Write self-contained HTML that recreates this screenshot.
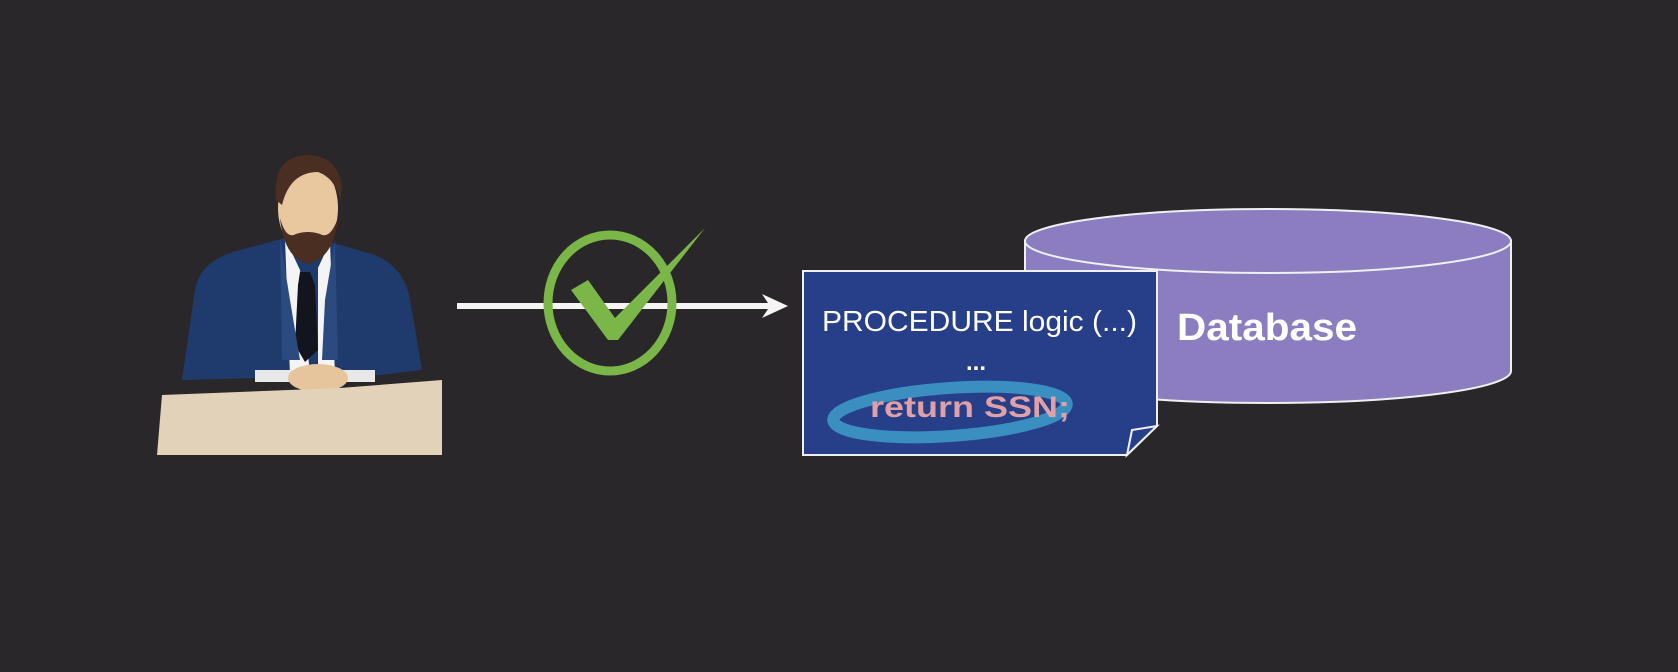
<!DOCTYPE html>
<html><head><meta charset="utf-8"><style>
html,body{margin:0;padding:0;background:#29272a;}
svg{display:block}
</style></head><body>
<svg width="1678" height="672" viewBox="0 0 1678 672" xmlns="http://www.w3.org/2000/svg">
<rect width="1678" height="672" fill="#29272a"/>
<!-- person -->
<path d="M182 380 L195 290 Q200 260 240 250 L285 238 L330 242 L375 255 Q405 268 410 300 L422 370 L380 375 L260 378 Z" fill="#1f3b6d"/>
<path d="M285 238 L300 270 L310 375 L290 375 Z" fill="#f4f4f4"/>
<path d="M330 242 L318 268 L318 375 L335 375 Z" fill="#f4f4f4"/>
<path d="M300 272 L310 272 L315 285 L318 350 L305 362 L295 345 L298 285 Z" fill="#12151d"/>
<path d="M280 238 L290 300 L300 360 L282 360 Z" fill="#2a4a80"/>
<path d="M335 240 L325 300 L322 360 L338 360 Z" fill="#2a4a80"/>
<ellipse cx="308" cy="208" rx="30" ry="46" fill="#e9c8a0"/>
<path d="M276 200 Q272 158 305 155 Q340 155 342 190 L340 200 Q335 178 318 172 Q290 172 282 205 Z" fill="#4a2e22"/>
<path d="M280 218 Q284 258 308 264 Q334 258 338 218 Q330 240 320 234 Q308 230 296 234 Q286 240 280 218 Z" fill="#4a2e22"/>
<rect x="255" y="370" width="120" height="12" fill="#e8e8e8"/>
<ellipse cx="318" cy="378" rx="30" ry="14" fill="#e6c59c"/>
<polygon points="162,395 340,388 442,380 442,455 157,455" fill="#e2d2ba"/>
<!-- arrow -->
<line x1="457" y1="306" x2="775" y2="306" stroke="#f5f5f5" stroke-width="6"/>
<polygon points="762,294 788,306 762,318 770,306" fill="#f5f5f5"/>
<!-- check -->
<ellipse cx="610" cy="303" rx="62" ry="68" fill="none" stroke="#7ab648" stroke-width="9"/>
<polygon points="571,290 588,280 615,318 705,228 618,340 608,340" fill="#7ab648"/>
<!-- cylinder -->
<path d="M1025 241 L1025 371 A243 32 0 0 0 1511 371 L1511 241 Z" fill="#8c7dc0" stroke="#f0f0f0" stroke-width="2"/>
<ellipse cx="1268" cy="241" rx="243" ry="32" fill="#8c7dc0" stroke="#f0f0f0" stroke-width="2"/>
<text x="1177" y="340" font-family="Liberation Sans, sans-serif" font-size="38" font-weight="bold" fill="#fff" textLength="180" lengthAdjust="spacingAndGlyphs">Database</text>
<!-- doc -->
<polygon points="803,271 1157,271 1157,426 1127,455 803,455" fill="#263f88" stroke="#f0f0f0" stroke-width="2"/>
<polygon points="1127,455 1132,430 1157,426" fill="#263f88" stroke="#f0f0f0" stroke-width="2"/>
<text x="822" y="331" font-family="Liberation Sans, sans-serif" font-size="29" fill="#fff" textLength="315" lengthAdjust="spacingAndGlyphs">PROCEDURE logic (...)</text>
<text x="966" y="370" font-family="Liberation Sans, sans-serif" font-size="24" font-weight="bold" fill="#fff">...</text>
<ellipse cx="950" cy="412" rx="117" ry="24" fill="none" stroke="#3a8fc0" stroke-width="12" transform="rotate(-4 950 412)"/>
<text x="870" y="417" font-family="Liberation Sans, sans-serif" font-size="30" font-weight="bold" fill="#dfa0a8" textLength="200" lengthAdjust="spacingAndGlyphs">return SSN;</text>
</svg>
</body></html>
